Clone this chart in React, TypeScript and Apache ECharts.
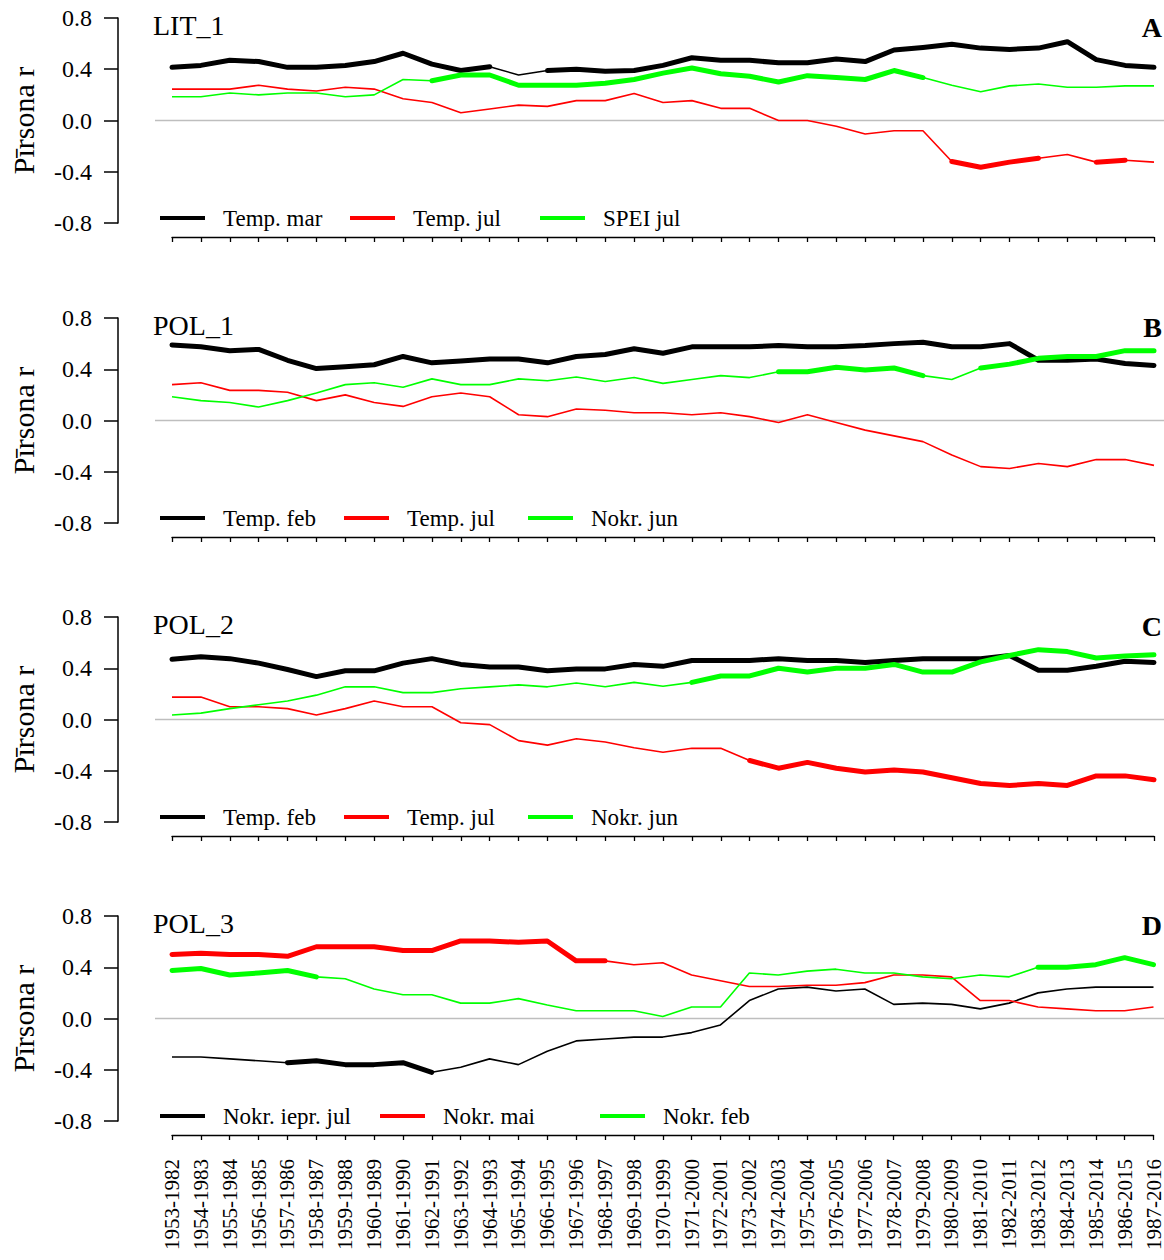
import React, { useEffect, useRef } from "react";
import * as echarts from "echarts";

const categories = [
  "1953-1982", "1954-1983", "1955-1984", "1956-1985", "1957-1986", "1958-1987", "1959-1988",
  "1960-1989", "1961-1990", "1962-1991", "1963-1992", "1964-1993", "1965-1994", "1966-1995",
  "1967-1996", "1968-1997", "1969-1998", "1970-1999", "1971-2000", "1972-2001", "1973-2002",
  "1974-2003", "1975-2004", "1976-2005", "1977-2006", "1978-2007", "1979-2008", "1980-2009",
  "1981-2010", "1982-2011", "1983-2012", "1984-2013", "1985-2014", "1986-2015", "1987-2016",
];

const yTicks = [-0.8, -0.4, 0.0, 0.4, 0.8];

// Panel A: LIT_1
const litTempMar = [0.415, 0.43, 0.47, 0.46, 0.415, 0.415, 0.43, 0.46, 0.525, 0.44, 0.39, 0.42, 0.355, 0.39, 0.4, 0.385, 0.39, 0.43, 0.49, 0.47, 0.47, 0.45, 0.45, 0.48, 0.46, 0.55, 0.57, 0.595, 0.565, 0.555, 0.565, 0.615, 0.475, 0.43, 0.415];
const litTempMarSig = [[0, 11], [13, 34]];
const litTempJul = [0.245, 0.245, 0.245, 0.275, 0.245, 0.23, 0.26, 0.245, 0.17, 0.14, 0.06, 0.09, 0.12, 0.11, 0.155, 0.155, 0.21, 0.14, 0.155, 0.095, 0.095, 0.0, 0.0, -0.045, -0.105, -0.08, -0.08, -0.32, -0.365, -0.325, -0.295, -0.265, -0.325, -0.31, -0.325];
const litTempJulSig = [[27, 30], [32, 33]];
const litSpeiJul = [0.185, 0.185, 0.215, 0.2, 0.215, 0.215, 0.185, 0.2, 0.32, 0.31, 0.355, 0.355, 0.275, 0.275, 0.275, 0.29, 0.32, 0.37, 0.41, 0.365, 0.345, 0.3, 0.35, 0.335, 0.32, 0.39, 0.335, 0.275, 0.225, 0.27, 0.285, 0.26, 0.26, 0.27, 0.27];
const litSpeiJulSig = [[9, 26]];

// Panel B: POL_1
const pol1TempFeb = [0.59, 0.575, 0.545, 0.555, 0.47, 0.405, 0.42, 0.435, 0.5, 0.45, 0.465, 0.48, 0.48, 0.45, 0.5, 0.515, 0.56, 0.525, 0.575, 0.575, 0.575, 0.585, 0.575, 0.575, 0.585, 0.6, 0.61, 0.575, 0.575, 0.6, 0.47, 0.47, 0.48, 0.445, 0.43];
const pol1TempFebSig = [[0, 34]];
const pol1TempJul = [0.28, 0.295, 0.235, 0.235, 0.22, 0.155, 0.2, 0.14, 0.11, 0.185, 0.215, 0.185, 0.045, 0.03, 0.09, 0.08, 0.06, 0.06, 0.045, 0.06, 0.03, -0.015, 0.045, -0.015, -0.075, -0.12, -0.165, -0.27, -0.36, -0.375, -0.335, -0.36, -0.305, -0.305, -0.35];
const pol1TempJulSig: number[][] = [];
const pol1NokrJun = [0.185, 0.155, 0.14, 0.105, 0.155, 0.215, 0.28, 0.295, 0.26, 0.325, 0.28, 0.28, 0.325, 0.31, 0.34, 0.305, 0.335, 0.29, 0.32, 0.35, 0.335, 0.38, 0.38, 0.415, 0.395, 0.41, 0.35, 0.32, 0.41, 0.44, 0.485, 0.5, 0.5, 0.545, 0.545];
const pol1NokrJunSig = [[21, 26], [28, 34]];

// Panel C: POL_2
const pol2TempFeb = [0.47, 0.49, 0.475, 0.44, 0.39, 0.335, 0.38, 0.38, 0.44, 0.475, 0.43, 0.41, 0.41, 0.38, 0.395, 0.395, 0.43, 0.415, 0.46, 0.46, 0.46, 0.475, 0.46, 0.46, 0.445, 0.46, 0.475, 0.475, 0.475, 0.5, 0.385, 0.385, 0.415, 0.455, 0.445];
const pol2TempFebSig = [[0, 34]];
const pol2TempJul = [0.175, 0.175, 0.1, 0.1, 0.085, 0.035, 0.085, 0.145, 0.1, 0.1, -0.025, -0.04, -0.165, -0.2, -0.15, -0.175, -0.22, -0.255, -0.225, -0.225, -0.32, -0.38, -0.335, -0.38, -0.41, -0.395, -0.41, -0.455, -0.5, -0.515, -0.5, -0.515, -0.44, -0.44, -0.47];
const pol2TempJulSig = [[20, 34]];
const pol2NokrJun = [0.035, 0.05, 0.085, 0.115, 0.145, 0.19, 0.255, 0.255, 0.21, 0.21, 0.24, 0.255, 0.27, 0.255, 0.285, 0.255, 0.29, 0.26, 0.29, 0.34, 0.34, 0.4, 0.37, 0.4, 0.4, 0.43, 0.37, 0.37, 0.45, 0.5, 0.545, 0.53, 0.48, 0.495, 0.505];
const pol2NokrJunSig = [[18, 34]];

// Panel D: POL_3
const pol3NokrIeprJul = [-0.3, -0.3, -0.315, -0.33, -0.345, -0.33, -0.36, -0.36, -0.345, -0.42, -0.38, -0.315, -0.36, -0.255, -0.175, -0.16, -0.145, -0.145, -0.11, -0.05, 0.14, 0.23, 0.245, 0.215, 0.23, 0.11, 0.12, 0.11, 0.075, 0.12, 0.2, 0.23, 0.245, 0.245, 0.245];
const pol3NokrIeprJulSig = [[4, 9]];
const pol3NokrMai = [0.5, 0.51, 0.5, 0.5, 0.485, 0.56, 0.56, 0.56, 0.53, 0.53, 0.605, 0.605, 0.595, 0.605, 0.45, 0.45, 0.42, 0.435, 0.34, 0.295, 0.25, 0.25, 0.26, 0.26, 0.28, 0.34, 0.34, 0.325, 0.14, 0.14, 0.09, 0.075, 0.06, 0.06, 0.09];
const pol3NokrMaiSig = [[0, 15]];
const pol3NokrFeb = [0.375, 0.39, 0.34, 0.355, 0.375, 0.325, 0.31, 0.23, 0.185, 0.185, 0.12, 0.12, 0.155, 0.105, 0.06, 0.06, 0.06, 0.015, 0.09, 0.09, 0.355, 0.34, 0.37, 0.385, 0.355, 0.355, 0.325, 0.31, 0.34, 0.325, 0.4, 0.4, 0.42, 0.475, 0.42];
const pol3NokrFebSig = [[0, 5], [30, 34]];

const panelTitles = ["LIT_1", "POL_1", "POL_2", "POL_3"];
const panelLetters = ["A", "B", "C", "D"];
const yName = "Pīrsona r";

const BLACK = "#000000";
const RED = "#ff0000";
const GREEN = "#00ff00";
const colors = [BLACK, RED, GREEN];

const panelSeries = [
  [
    { name: "Temp. mar", values: litTempMar, sig: litTempMarSig },
    { name: "Temp. jul", values: litTempJul, sig: litTempJulSig },
    { name: "SPEI jul", values: litSpeiJul, sig: litSpeiJulSig },
  ],
  [
    { name: "Temp. feb", values: pol1TempFeb, sig: pol1TempFebSig },
    { name: "Temp. jul", values: pol1TempJul, sig: pol1TempJulSig },
    { name: "Nokr. jun", values: pol1NokrJun, sig: pol1NokrJunSig },
  ],
  [
    { name: "Temp. feb", values: pol2TempFeb, sig: pol2TempFebSig },
    { name: "Temp. jul", values: pol2TempJul, sig: pol2TempJulSig },
    { name: "Nokr. jun", values: pol2NokrJun, sig: pol2NokrJunSig },
  ],
  [
    { name: "Nokr. iepr. jul", values: pol3NokrIeprJul, sig: pol3NokrIeprJulSig },
    { name: "Nokr. mai", values: pol3NokrMai, sig: pol3NokrMaiSig },
    { name: "Nokr. feb", values: pol3NokrFeb, sig: pol3NokrFebSig },
  ],
];

const FONT = '"Liberation Serif", "Times New Roman", Times, serif';
const W = 1164;
const H = 1260;
const GRID_LEFT = 169;
const GRID_RIGHT = 10;
const GRID_H = 205;
const tops = [18, 318, 617, 916];
// legend column spacing (R-style equal columns)
const legendColumn = [190, 184, 184, 220];

function sigValues(values: number[], ranges: number[][]) {
  return values.map((v, i) => (ranges.some(([a, b]) => i >= a && i <= b) ? v : null));
}

function buildOption() {
  const grid = tops.map((t) => ({ left: GRID_LEFT, right: GRID_RIGHT, top: t, height: GRID_H }));
  const xAxis = tops.map((_, k) => ({
    type: "category",
    gridIndex: k,
    data: categories,
    boundaryGap: false,
    offset: 14,
    axisLine: { show: true, onZero: false, lineStyle: { color: "#000", width: 1.3 } },
    axisTick: { show: true, length: 5, interval: 0, lineStyle: { color: "#000", width: 1.3 } },
    axisLabel:
      k === 3
        ? { show: true, rotate: 90, interval: 0, fontFamily: FONT, fontSize: 21, color: "#000", margin: 24 }
        : { show: false },
    splitLine: { show: false },
  }));
  const yAxis = tops.map((_, k) => ({
    type: "value",
    gridIndex: k,
    min: yTicks[0],
    max: yTicks[yTicks.length - 1],
    interval: 0.4,
    offset: GRID_LEFT - 115,
    axisLine: { show: true, lineStyle: { color: "#000", width: 1.5 } },
    axisTick: { show: true, length: 14, lineStyle: { color: "#000", width: 1.5 } },
    axisLabel: {
      fontFamily: FONT,
      fontSize: 24,
      color: "#000",
      margin: 26,
      formatter: (v: number) => (Math.abs(v) < 1e-9 ? 0 : v).toFixed(1),
    },
    splitLine: { show: false },
    name: yName,
    nameLocation: "middle",
    nameRotate: 90,
    nameGap: 80,
    nameTextStyle: { fontFamily: FONT, fontSize: 30, color: "#000" },
  }));

  const series: any[] = [];
  panelSeries.forEach((list, k) => {
    list.forEach((s, j) => {
      const color = colors[j];
      series.push({
        type: "line",
        name: s.name,
        xAxisIndex: k,
        yAxisIndex: k,
        data: s.values,
        symbol: "none",
        silent: true,
        z: 2,
        itemStyle: { color },
        lineStyle: { color, width: 1.6 },
      });
      series.push({
        type: "line",
        name: s.name + " (p<0.05)",
        xAxisIndex: k,
        yAxisIndex: k,
        data: sigValues(s.values, s.sig),
        connectNulls: false,
        symbol: "none",
        silent: true,
        z: 3,
        itemStyle: { color },
        lineStyle: { color, width: 5, cap: "round", join: "round" },
      });
    });
  });

  const legend = panelSeries.map((list, k) => ({
    left: 160,
    top: tops[k] + 188,
    padding: 0,
    orient: "horizontal",
    itemWidth: 45,
    itemHeight: 4,
    itemGap: 0,
    selectedMode: false,
    icon: "rect",
    textStyle: {
      fontFamily: FONT,
      fontSize: 23,
      color: "#000",
      padding: [0, 0, 0, 13],
      lineHeight: 24,
      width: legendColumn[k] - 45 - 5 - 13,
      overflow: "none",
    },
    data: list.map((s) => ({ name: s.name, icon: "rect" })),
  }));

  const graphic: any[] = [];
  tops.forEach((t, k) => {
    graphic.push({
      type: "line",
      z: 0,
      silent: true,
      shape: { x1: 155, y1: t + GRID_H / 2, x2: W, y2: t + GRID_H / 2 },
      style: { stroke: "#bebebe", lineWidth: 1.5 },
    });
    graphic.push({
      type: "text",
      x: 153,
      y: t + 7,
      silent: true,
      style: { text: panelTitles[k], font: `28px ${FONT}`, fill: "#000", align: "left", verticalAlign: "middle" },
    });
    graphic.push({
      type: "text",
      x: W - 2,
      y: t + 9,
      silent: true,
      style: { text: panelLetters[k], font: `bold 28px ${FONT}`, fill: "#000", align: "right", verticalAlign: "middle" },
    });
  });

  return {
    animation: false,
    backgroundColor: "#ffffff",
    grid,
    xAxis,
    yAxis,
    legend,
    series,
    graphic,
  };
}

export default function App() {
  const ref = useRef<HTMLDivElement>(null);
  useEffect(() => {
    document.body.style.margin = "0";
    if (!ref.current) return;
    const chart = echarts.init(ref.current, null, { renderer: "svg" });
    chart.setOption(buildOption() as any);
    return () => chart.dispose();
  }, []);
  return <div ref={ref} style={{ width: W, height: H }} />;
}
